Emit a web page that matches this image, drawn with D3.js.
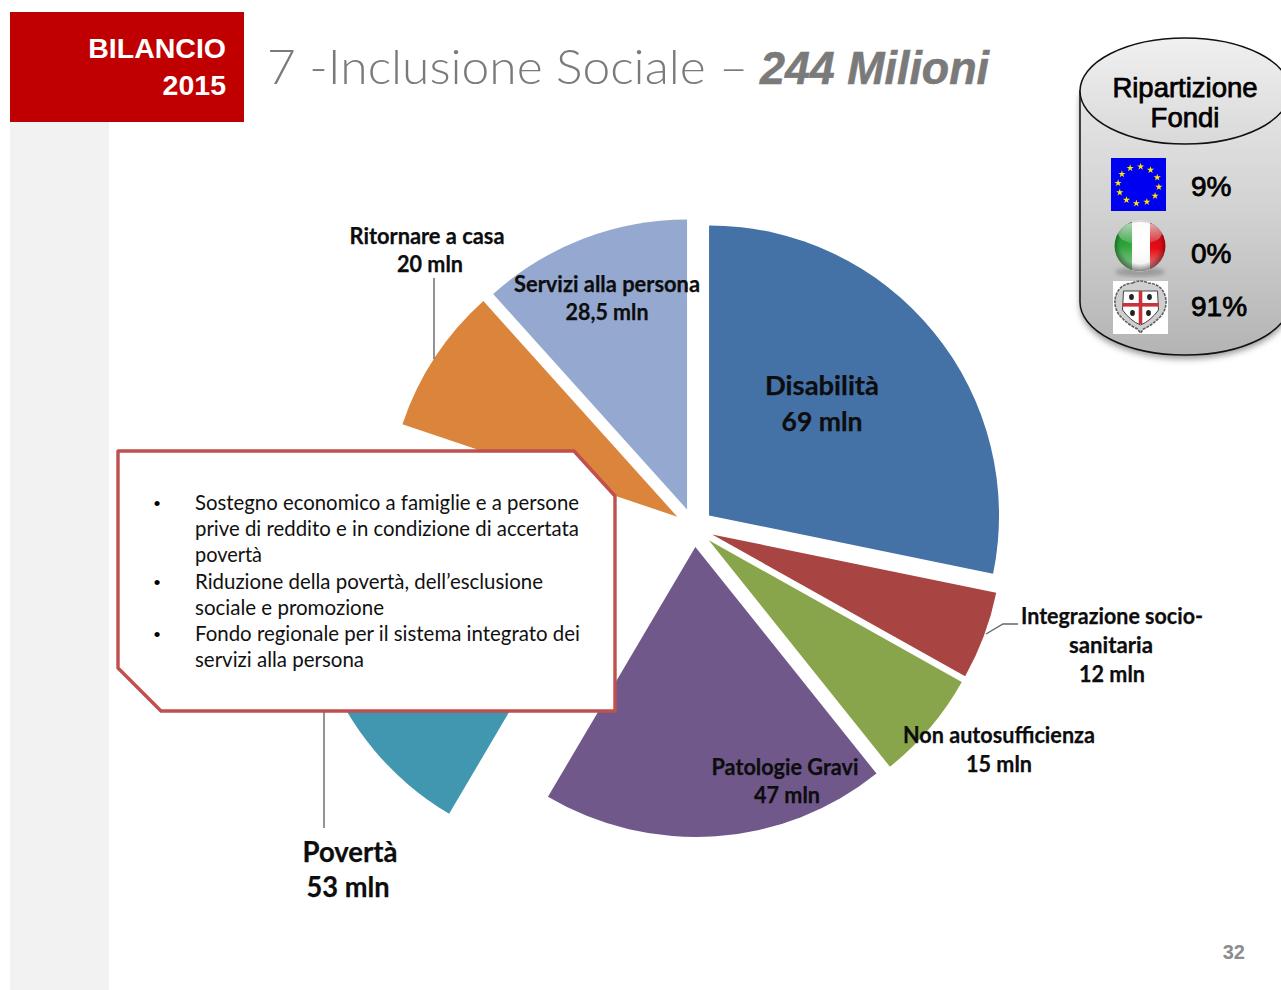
<!DOCTYPE html>
<html lang="it">
<head>
<meta charset="utf-8">
<title>Bilancio 2015 - Inclusione Sociale</title>
<script src="https://cdn.jsdelivr.net/npm/d3@7/dist/d3.min.js"></script>
<style>
  html, body { margin: 0; padding: 0; background: #fff; }
  svg { display: block; }
  text { font-kerning: normal; }
</style>
</head>
<body>
<svg id="slide" width="1281" height="990" viewBox="0 0 1281 990"></svg>
<script>
// Budget lines, in millions of euro, clockwise from twelve o'clock
const categories = ["Disabilità", "Integrazione socio-sanitaria", "Non autosufficienza", "Patologie Gravi", "Povertà", "Ritornare a casa", "Servizi alla persona"];
const values = [69, 12, 15, 47, 53, 20, 28.5];
const valueLabels = ["69 mln", "12 mln", "15 mln", "47 mln", "53 mln", "20 mln", "28,5 mln"];
const sliceColors = ["#4471a6", "#a84543", "#89a54c", "#70588b", "#4197b0", "#db843c", "#95a9d0"];
const explode = [19.4, 19.4, 19.4, 19.4, 104, 20, 19.4];

const fundLabels = ["9%", "0%", "91%"];
const bullets = [
  ["Sostegno economico a famiglie e a persone", "prive di reddito e in condizione di accertata", "povertà"],
  ["Riduzione della povertà, dell’esclusione", "sociale e promozione"],
  ["Fondo regionale per il sistema integrato dei", "servizi alla persona"]
];

const svg = d3.select("#slide");
const defs = svg.append("defs");
const CALIBRI = "Lato, 'Open Sans', sans-serif";
const ARIAL = "'Liberation Sans', Arial, sans-serif";

// Slide furniture: grey side band and red heading tab
svg.append("rect").attr("x", 10).attr("y", 122).attr("width", 99).attr("height", 868).attr("fill", "#f2f2f2");
svg.append("rect").attr("x", 10).attr("y", 12).attr("width", 234).attr("height", 110).attr("fill", "#c00000");

function put(parent, str, o) {
  const t = parent.append("text")
    .attr("x", o.x).attr("y", o.y)
    .attr("text-anchor", o.anchor || "middle")
    .attr("font-family", o.family || CALIBRI)
    .attr("font-size", o.size)
    .attr("font-weight", o.weight || "normal")
    .attr("font-style", o.style || "normal")
    .attr("fill", o.fill || "#000")
    .text(str);
  if (o.fit) t.attr("textLength", o.fit).attr("lengthAdjust", "spacingAndGlyphs");
  if (o.heavy) t.attr("stroke", o.fill || "#000").attr("stroke-width", o.heavy);
  return t;
}

put(svg, "BILANCIO", { x: 226, y: 58, anchor: "end", family: ARIAL, size: 28.5, weight: "bold", fill: "#fff" });
put(svg, "2015", { x: 226, y: 95, anchor: "end", family: ARIAL, size: 28.5, weight: "bold", fill: "#fff" });

put(svg, "7 -Inclusione Sociale –", { x: 267, y: 84, anchor: "start", family: "Lato, sans-serif", size: 48, weight: 300, fill: "#7a7a7a", fit: 481 });
put(svg, "244 Milioni", { x: 760, y: 84, anchor: "start", family: ARIAL, size: 46, weight: "bold", style: "italic", fill: "#7a7a7a", fit: 229, heavy: 0.6 });

// Exploded pie: every wedge is pushed out along its own bisector
const pieCx = 694, pieCy = 527.7, pieR = 290;
const pie = d3.pie().sort(null).value(d => d)(values);
const arc = d3.arc().innerRadius(0).outerRadius(pieR);

const leaders = [
  [[434, 278], [434, 359]],
  [[986, 634], [1003, 624], [1018, 624]],
  [[324, 700], [324, 828]]
];
const leaderLine = d3.line();

svg.append("g").attr("transform", `translate(${pieCx},${pieCy})`)
  .selectAll("path").data(pie).join("path")
  .attr("d", arc)
  .attr("fill", (d, i) => sliceColors[i])
  .attr("transform", (d, i) => {
    const mid = (d.startAngle + d.endAngle) / 2;
    return `translate(${Math.sin(mid) * explode[i]},${-Math.cos(mid) * explode[i]})`;
  });

svg.append("g").selectAll("path").data(leaders).join("path")
  .attr("d", leaderLine).attr("fill", "none").attr("stroke", "#666").attr("stroke-width", 1.4);

// Value labels sit wherever the slide's author placed them by hand
const labelLayout = [
  { lines: [[categories[0], 822, 395, 114, 26], [valueLabels[0], 822, 431, 81, 26]] },
  { lines: [["Integrazione socio-", 1112, 624, 182, 22], ["sanitaria", 1111, 653, 84, 22], [valueLabels[1], 1112, 682, 66, 22]] },
  { lines: [[categories[2], 999, 743, 192, 22], [valueLabels[2], 999, 772, 66, 22]] },
  { lines: [[categories[3], 785, 775, 147, 22], [valueLabels[3], 787, 803, 66, 22]] },
  { lines: [[categories[4], 350, 862, 95, 28], [valueLabels[4], 348, 897, 83, 28]] },
  { lines: [[categories[5], 427, 244, 155, 22], [valueLabels[5], 430, 272, 66, 22]] },
  { lines: [[categories[6], 607, 292, 186, 22], [valueLabels[6], 607, 320, 83, 22]] }
];
const labelGroup = svg.append("g");
labelLayout.forEach(l => l.lines.forEach(([s, x, y, w, size]) =>
  put(labelGroup, s, { x, y, size, weight: "bold", fit: w, fill: "#0d0d0d", heavy: 0.25 })));

// Callout box with two snipped corners, covering the hidden part of the pie
const boxPts = [[118, 451], [574, 451], [615, 496], [615, 711], [161, 711], [118, 668]];
svg.append("path").attr("d", d3.line().curve(d3.curveLinearClosed)(boxPts))
  .attr("fill", "#fff").attr("stroke", "#c0504d").attr("stroke-width", 3.4).attr("stroke-linejoin", "round");

const lineWidths = [[384, 384, 67], [348, 189], [385, 169]];
let lineY = 510;
bullets.forEach((lines, b) => {
  put(svg, "•", { x: 157, y: lineY, family: ARIAL, size: 19 });
  lines.forEach((s, k) => {
    put(svg, s, { x: 195, y: lineY, anchor: "start", size: 20.5, fit: lineWidths[b][k], fill: "#111" });
    lineY += 26.2;
  });
});

// Funding cylinder, cut by the right edge of the slide
const bodyGrad = defs.append("linearGradient").attr("id", "cylBody").attr("x1", 0).attr("y1", 0).attr("x2", 0).attr("y2", 1);
[[0, "#e6e6e6"], [0.45, "#d2d2d2"], [1, "#b4b4b4"]].forEach(([o, c]) => bodyGrad.append("stop").attr("offset", o).attr("stop-color", c));
const topGrad = defs.append("linearGradient").attr("id", "cylTop").attr("x1", 0).attr("y1", 0).attr("x2", 0).attr("y2", 1);
[[0, "#f0f0f0"], [1, "#d9d9d9"]].forEach(([o, c]) => topGrad.append("stop").attr("offset", o).attr("stop-color", c));
defs.append("filter").attr("id", "cylShadow").attr("x", "-10%").attr("y", "-10%").attr("width", "120%").attr("height", "125%")
  .append("feGaussianBlur").attr("stdDeviation", 3);

const cylL = 1080, cylR = 1290, cylT = 91, cylB = 302, cylRx = 105, cylRy = 53;
const bodyPath = `M${cylL},${cylT} L${cylL},${cylB} A${cylRx},${cylRy} 0 0 0 ${cylR},${cylB} L${cylR},${cylT} Z`;
svg.append("path").attr("d", bodyPath).attr("transform", "translate(0,4)").attr("fill", "#999").attr("filter", "url(#cylShadow)");
svg.append("path").attr("d", bodyPath).attr("fill", "url(#cylBody)").attr("stroke", "#111").attr("stroke-width", 1.5);
svg.append("ellipse").attr("cx", 1185).attr("cy", cylT).attr("rx", cylRx).attr("ry", cylRy)
  .attr("fill", "url(#cylTop)").attr("stroke", "#111").attr("stroke-width", 1.5);

put(svg, "Ripartizione", { x: 1185, y: 97, family: ARIAL, size: 27.5, heavy: 0.75 });
put(svg, "Fondi", { x: 1185, y: 127, family: ARIAL, size: 27.5, heavy: 0.75 });

const fundY = [196, 263, 316];
fundLabels.forEach((s, i) => put(svg, s, { x: 1191, y: fundY[i], anchor: "start", family: ARIAL, size: 28, heavy: 0.8 }));

// EU flag
svg.append("rect").attr("x", 1111).attr("y", 158).attr("width", 55).attr("height", 53).attr("fill", "#0000f0");
const starPath = d3.symbol().type(d3.symbolStar).size(16)();
svg.append("g").attr("fill", "#ffe600").selectAll("path").data(d3.range(12)).join("path")
  .attr("d", starPath)
  .attr("transform", i => {
    const a = (i + 0.2) * Math.PI / 6;
    return `translate(${1138.5 + 20.5 * Math.sin(a)},${185 - 18.5 * Math.cos(a)})`;
  });

// Italian flag as a glossy ball
const ballClip = defs.append("clipPath").attr("id", "ballClip");
ballClip.append("circle").attr("cx", 1140).attr("cy", 246).attr("r", 25.5);
const shade = defs.append("radialGradient").attr("id", "ballShade").attr("cx", "50%").attr("cy", "45%").attr("r", "55%");
[[0, "#fff", 0], [0.72, "#000", 0.04], [1, "#000", 0.5]].forEach(([o, c, a]) => shade.append("stop").attr("offset", o).attr("stop-color", c).attr("stop-opacity", a));
const gloss = defs.append("linearGradient").attr("id", "ballGloss").attr("x1", 0).attr("y1", 0).attr("x2", 0).attr("y2", 1);
[[0, 0.7], [1, 0.12]].forEach(([o, a]) => gloss.append("stop").attr("offset", o).attr("stop-color", "#fff").attr("stop-opacity", a));
const greenFade = defs.append("linearGradient").attr("id", "ballGreen").attr("x1", 0).attr("y1", 0).attr("x2", 0).attr("y2", 1);
[[0, "#1c8a2a"], [0.5, "#2fa83c"], [1, "#9fd3a4"]].forEach(([o, c]) => greenFade.append("stop").attr("offset", o).attr("stop-color", c));
const redFade = defs.append("linearGradient").attr("id", "ballRed").attr("x1", 0).attr("y1", 0).attr("x2", 0).attr("y2", 1);
[[0, "#b01018"], [0.55, "#ee0a14"], [1, "#f0a0a0"]].forEach(([o, c]) => redFade.append("stop").attr("offset", o).attr("stop-color", c));
defs.append("filter").attr("id", "softBlur").append("feGaussianBlur").attr("stdDeviation", 2);

svg.append("ellipse").attr("cx", 1140).attr("cy", 272).attr("rx", 25).attr("ry", 4.5).attr("fill", "#888").attr("opacity", 0.7).attr("filter", "url(#softBlur)");
const ball = svg.append("g").attr("clip-path", "url(#ballClip)");
ball.append("rect").attr("x", 1114).attr("y", 220).attr("width", 18).attr("height", 52).attr("fill", "url(#ballGreen)");
ball.append("rect").attr("x", 1132).attr("y", 220).attr("width", 18).attr("height", 52).attr("fill", "#fff");
ball.append("rect").attr("x", 1150).attr("y", 220).attr("width", 16).attr("height", 52).attr("fill", "url(#ballRed)");
ball.append("circle").attr("cx", 1140).attr("cy", 246).attr("r", 25.5).attr("fill", "url(#ballShade)");
ball.append("ellipse").attr("cx", 1140).attr("cy", 233).attr("rx", 22).attr("ry", 11).attr("fill", "url(#ballGloss)");

// Coat of arms of Sardinia: ornate frame, St George's cross and the four heads
svg.append("rect").attr("x", 1113).attr("y", 281).attr("width", 55).attr("height", 53).attr("fill", "#fff");
const arms = svg.append("g").attr("transform", "translate(1140.5,306)");
arms.append("path").attr("d", "M-8,-23 Q0,-27 8,-23 Q20,-22 24,-12 Q28,-2 22,8 Q14,18 3,23 L0,27 L-3,23 Q-14,18 -22,8 Q-28,-2 -24,-12 Q-20,-22 -8,-23 Z")
  .attr("fill", "#cfcfcf").attr("stroke", "#5f5f5f").attr("stroke-width", 1.6).attr("stroke-dasharray", "3 1");
arms.append("path").attr("d", "M-17,-15 L17,-15 L18,4 Q10,15 0,19 Q-10,15 -18,4 Z").attr("fill", "#fff").attr("stroke", "#444").attr("stroke-width", 1);
arms.append("rect").attr("x", -18).attr("y", -3).attr("width", 36).attr("height", 3.6).attr("fill", "#c8323a");
arms.append("rect").attr("x", -1.8).attr("y", -15).attr("width", 3.6).attr("height", 33).attr("fill", "#c8323a");
[[-9, -9], [9, -9], [-8, 7], [8, 7]].forEach(([x, y]) =>
  arms.append("ellipse").attr("cx", x).attr("cy", y).attr("rx", 2.4).attr("ry", 3).attr("fill", "#222"));

put(svg, "32", { x: 1245, y: 959, anchor: "end", family: ARIAL, size: 20, weight: "bold", fill: "#8c8c8c" });
</script>
</body>
</html>
